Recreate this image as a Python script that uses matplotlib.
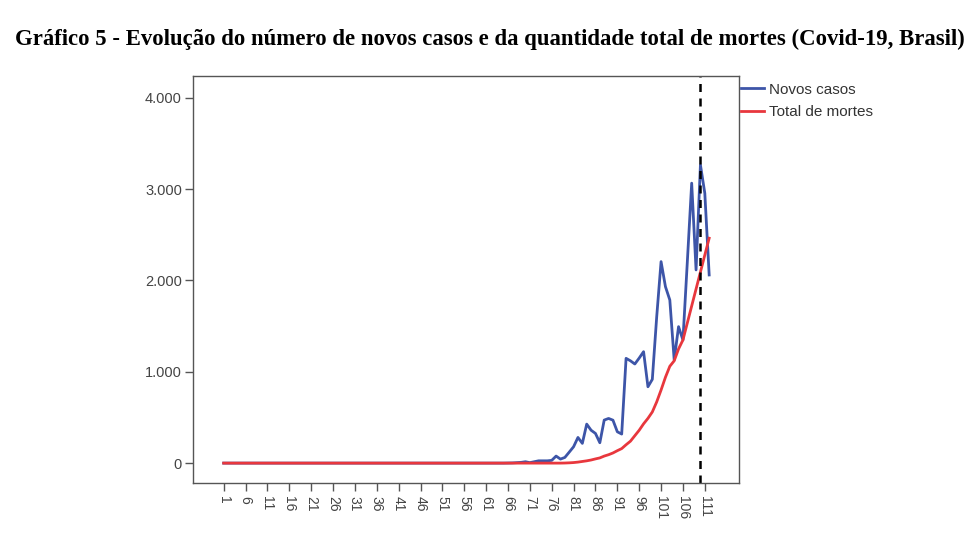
import matplotlib
matplotlib.use("Agg")
import matplotlib.pyplot as plt
from matplotlib.ticker import FuncFormatter
import numpy as np

# ---- data ----
days = list(range(1, 113))
novos_early = [0] * 65  # days 1-65
novos_late = [1, 2, 5, 8, 15, 5, 15, 25, 25, 25, 30, 77, 44, 62, 120, 179, 281, 216,
              427, 360, 325, 223, 471, 489, 470, 343, 318, 1147, 1120, 1085, 1150, 1220,
              836, 917, 1600, 2206, 1932, 1786, 1130, 1494, 1348, 2200, 3065, 2115, 3265,
              2955, 2060]  # days 66-112
novos_casos = novos_early + novos_late

mortes_early = [0] * 78  # days 1-78
mortes_late = [1, 3, 6, 11, 18, 25, 34, 46, 57, 77, 92, 111, 136, 159, 201, 240, 300,
               360, 430, 490, 560, 670, 800, 940, 1060, 1120, 1250, 1348, 1534, 1720,
               1906, 2092, 2278, 2462]  # days 79-112
total_mortes = mortes_early + mortes_late

marker_day = 110
xticks = list(range(1, 112, 5))
yticks = [0, 1000, 2000, 3000, 4000]

title = "Gráfico 5 - Evolução do número de novos casos e da quantidade total de mortes (Covid-19, Brasil)"

# ---- figure ----
fig = plt.figure(figsize=(9.8, 5.41), dpi=100)
ax = fig.add_axes([0.197, 0.107, 0.557, 0.753])

blue = "#3d55a8"
red = "#e8373d"
ax.plot(days, novos_casos, color=blue, lw=2.0, label="Novos casos", solid_joinstyle="round")
ax.plot(days, total_mortes, color=red, lw=2.0, label="Total de mortes", solid_joinstyle="round")
ax.axvline(marker_day, color="black", lw=1.8, ls=(0, (3.2, 2.6)))

ax.set_xlim(-6, 118.8)
ax.set_ylim(-219, 4241)
ax.set_xticks(xticks)
ax.set_xticklabels([str(t) for t in xticks], rotation=-90, va="top", ha="center",
                   fontsize=10, color="#444444", family="Liberation Sans")
ax.set_yticks(yticks)
ax.yaxis.set_major_formatter(FuncFormatter(lambda v, p: f"{int(v):,}".replace(",", ".")))
for lab in ax.get_yticklabels():
    lab.set_fontsize(10.5)
    lab.set_color("#444444")
    lab.set_family("Liberation Sans")
ax.tick_params(axis="both", direction="out", length=6, width=1.0, color="#555555")
ax.tick_params(axis="y", pad=2)
ax.tick_params(axis="x", pad=3)
for s in ax.spines.values():
    s.set_color("#555555")
    s.set_linewidth(1.0)

leg = ax.legend(loc="upper left", bbox_to_anchor=(1.003, 0.983), frameon=False,
                handlelength=1.55, handletextpad=0.3, borderaxespad=0.0, borderpad=0.0,
                labelspacing=0.55,
                prop={"family": "Liberation Sans", "size": 11})
for t in leg.get_texts():
    t.set_color("#333333")

fig.text(0.5, 0.9265, title, ha="center", va="center", fontsize=16.4, fontweight="bold",
         family="Liberation Serif")

fig.savefig("out.png", dpi=100)
